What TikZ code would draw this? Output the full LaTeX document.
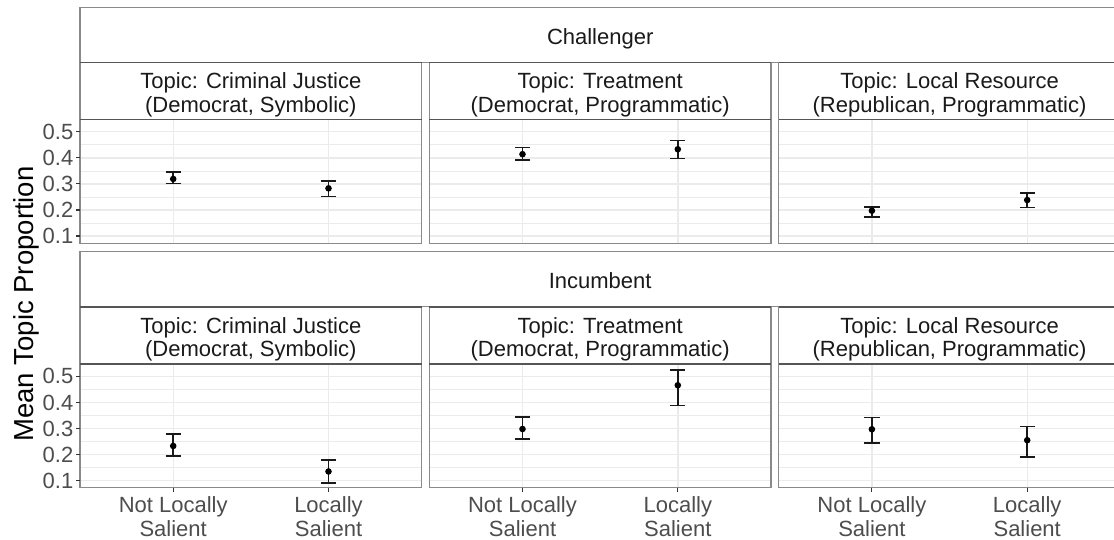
\documentclass[tikz,border=0pt]{standalone}
\usepackage{fontspec}
\setmainfont{Liberation Sans}
\definecolor{gridc}{HTML}{EBEBEB}
\definecolor{bordc}{HTML}{8A8A8A}
\definecolor{darkbord}{HTML}{555555}
\definecolor{ticktext}{HTML}{4D4D4D}
\definecolor{striptext}{HTML}{1A1A1A}
\definecolor{tickc}{HTML}{333333}
\tikzset{
  majorgrid/.style={draw=gridc,line width=1.4pt},
  minorgrid/.style={draw=gridc,line width=0.7pt},
  boxline/.style={draw=bordc,line width=1.1pt},
  sharedline/.style={draw=darkbord,line width=1.4pt},
  ticktxt/.style={text=ticktext,inner sep=0pt,font=\fontsize{22}{24}\selectfont},
  striptxt/.style={text=striptext,inner sep=0pt,anchor=base,font=\fontsize{22}{24}\selectfont},
  tickmark/.style={draw=tickc,line width=1.1pt},
  errbar/.style={draw=black!90,line width=1.6pt},
}
\begin{document}
\begin{tikzpicture}[x=1pt,y=-1pt]
\useasboundingbox (0,0) rectangle (1114,540);
\fill[white] (0,0) rectangle (1114,540);
\begin{scope}
\clip (0,0) rectangle (1114,540);
% rows
\foreach \o/\name/\rid in {0/Challenger/a, 244.6/Incumbent/b}{
  % panels
  \foreach \L/\pid in {80/1, 429.3/2, 778.7/3}{
    % grid
    \foreach \v in {0.15,0.25,0.35,0.45}{
      \pgfmathsetmacro\yy{\o+131.8+(0.5-\v)*260.5}
      \draw[minorgrid] (\L,\yy) -- ++(341.7,0);
    }
    \foreach \v in {0.1,0.2,0.3,0.4,0.5}{
      \pgfmathsetmacro\yy{\o+131.8+(0.5-\v)*260.5}
      \draw[majorgrid] (\L,\yy) -- ++(341.7,0);
    }
    \draw[majorgrid] (\L+93.2,\o+119.5) -- (\L+93.2,\o+243.1);
    \draw[majorgrid] (\L+248.5,\o+119.5) -- (\L+248.5,\o+243.1);
    % panel border and topic strip
    \draw[boxline] (\L,\o+119.5) rectangle (\L+341.7,\o+243.1);
    \draw[boxline] (\L,\o+62.3) rectangle (\L+341.7,\o+119.5);
  }
  % outer strip
  \draw[boxline] (80,\o+7.2) rectangle (1120.4,\o+62.3);
  \foreach \L in {80, 429.3, 778.7}{
    \draw[sharedline] (\L,\o+62.3) -- ++(341.7,0);
    \draw[sharedline] (\L,\o+119.5) -- ++(341.7,0);
  }
  \node[striptxt] (outer\rid) at (600.2,\o+44.3) {\name};
  % y ticks
  \foreach \v in {0.1,0.2,0.3,0.4,0.5}{
    \pgfmathsetmacro\yy{\o+131.8+(0.5-\v)*260.5}
    \draw[tickmark] (76.3,\yy) -- (80,\yy);
    \node[ticktxt,anchor=east] (yl\rid\v) at (73.5,\yy) {\v};
  }
}
% strip texts
\foreach \o/\rid in {0/a, 244.6/b}{
  \node[striptxt] (t1\rid) at (250.85,\o+88.5) {Topic: Criminal Justice};
  \node[striptxt] (s1\rid) at (250.85,\o+112.3) {(Democrat, Symbolic)};
  \node[striptxt] (t2\rid) at (600.15,\o+88.5) {Topic: Treatment};
  \node[striptxt] (s2\rid) at (600.15,\o+112.3) {(Democrat, Programmatic)};
  \node[striptxt] (t3\rid) at (949.55,\o+88.5) {Topic: Local Resource};
  \node[striptxt] (s3\rid) at (949.55,\o+112.3) {(Republican, Programmatic)};
}
% x ticks and labels
\foreach \xx/\xid in {173.2/a, 328.5/b, 522.5/c, 677.8/d, 871.9/e, 1027.2/f}{
  \draw[tickmark] (\xx,487.9) -- (\xx,491.6);
}
\foreach \xx/\xid in {173.2/a, 522.5/c, 871.9/e}{
  \node[ticktxt,anchor=base] (xn\xid) at (\xx,512.7) {Not Locally};
  \node[ticktxt,anchor=base] (xs\xid) at (\xx,536.3) {Salient};
}
\foreach \xx/\xid in {328.5/b, 677.8/d, 1027.2/f}{
  \node[ticktxt,anchor=base] (xn\xid) at (\xx,512.7) {Locally};
  \node[ticktxt,anchor=base] (xs\xid) at (\xx,536.3) {Salient};
}
% data
\foreach \xx/\o/\m/\lo/\hi in {
  173.2/0/0.319/0.301/0.346, 328.5/0/0.283/0.251/0.312,
  522.5/0/0.414/0.392/0.440, 677.8/0/0.433/0.398/0.466,
  871.9/0/0.197/0.174/0.212, 1027.2/0/0.238/0.210/0.266,
  173.2/244.6/0.233/0.195/0.280, 328.5/244.6/0.135/0.090/0.178,
  522.5/244.6/0.298/0.260/0.344, 677.8/244.6/0.466/0.388/0.524,
  871.9/244.6/0.297/0.244/0.342, 1027.2/244.6/0.255/0.190/0.308}{
  \pgfmathsetmacro\ym{\o+131.8+(0.5-\m)*260.5}
  \pgfmathsetmacro\yl{\o+131.8+(0.5-\lo)*260.5}
  \pgfmathsetmacro\yh{\o+131.8+(0.5-\hi)*260.5}
  \draw[errbar] (\xx,\yl) -- (\xx,\yh);
  \draw[errbar] (\xx-7.6,\yl) -- (\xx+7.6,\yl);
  \draw[errbar] (\xx-7.6,\yh) -- (\xx+7.6,\yh);
  \fill[black] (\xx,\ym) circle (3.3);
}
% axis title
\node[inner sep=0pt,anchor=base,rotate=90,font=\fontsize{27.5}{30}\selectfont] (ytitle) at (33.5,304) {Mean Topic Proportion};
\end{scope}
\end{tikzpicture}
\end{document}
